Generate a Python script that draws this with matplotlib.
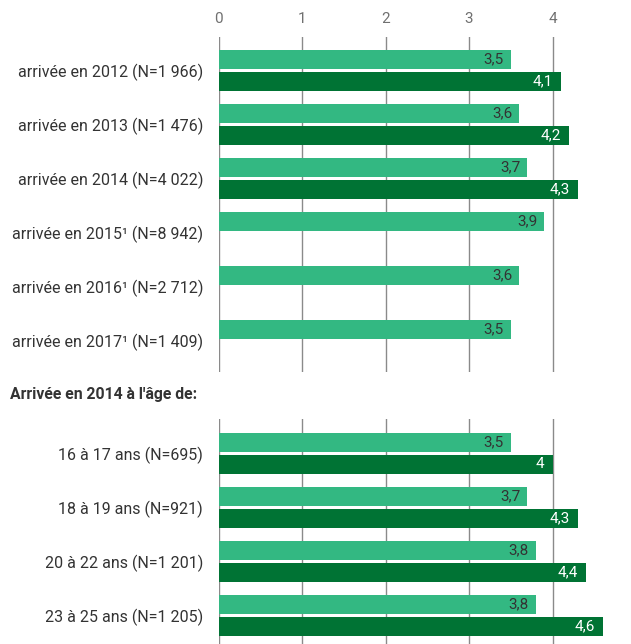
import matplotlib
matplotlib.use("Agg")
import matplotlib.pyplot as plt

plt.rcParams['font.family'] = ['Roboto', 'DejaVu Sans']

top_categories = ["arrivée en 2012 (N=1 966)", "arrivée en 2013 (N=1 476)",
                  "arrivée en 2014 (N=4 022)", "arrivée en 2015¹ (N=8 942)",
                  "arrivée en 2016¹ (N=2 712)", "arrivée en 2017¹ (N=1 409)"]
top_light = [3.5, 3.6, 3.7, 3.9, 3.6, 3.5]
top_dark = [4.1, 4.2, 4.3, None, None, None]

bottom_header = "Arrivée en 2014 à l'âge de:"
bottom_categories = ["16 à 17 ans (N=695)", "18 à 19 ans (N=921)",
                     "20 à 22 ans (N=1 201)", "23 à 25 ans (N=1 205)"]
bottom_light = [3.5, 3.7, 3.8, 3.8]
bottom_dark = [4.0, 4.3, 4.4, 4.6]

x_ticks = [0, 1, 2, 3, 4, 5]

LIGHT = "#33b882"
DARK = "#007334"
W, H = 631, 644
fig = plt.figure(figsize=(W / 100, H / 100), dpi=100)

x0 = 218.5
unit = 83.5
row = 54.0
bh = 19 / row
off = 11 / row
FS_LAB = 11.5
FS_VAL = 11
FS_TICK = 11


def fmt(v):
    s = f"{v:.1f}".replace(".", ",")
    if s.endswith(",0"):
        s = s[:-2]
    return s


def panel(top_px, bot_px, first_center_px, cats, light, dark, show_ticks):
    ax = fig.add_axes([x0 / W, 1 - bot_px / H, 5 * unit / W, (bot_px - top_px) / H])
    n = len(cats)
    ytop = -(first_center_px - top_px) / row
    ybot = ytop + (bot_px - top_px) / row
    ax.set_ylim(ybot, ytop)
    ax.set_xlim(0, 5)
    for s in ax.spines.values():
        s.set_visible(False)
    ax.set_xticks(x_ticks)
    ax.grid(axis='x', color='#8a8a8a', linewidth=1.0)
    ax.set_axisbelow(True)
    ax.tick_params(axis='x', length=0, top=False, bottom=False,
                   labeltop=show_ticks, labelbottom=False, pad=8,
                   labelsize=FS_TICK, labelcolor='#707070')
    ys = list(range(n))
    ax.set_yticks(ys)
    ax.set_yticklabels(cats)
    ax.tick_params(axis='y', length=0, pad=11, labelsize=FS_LAB, labelcolor='#333333')
    for i in ys:
        v = light[i]
        ax.barh(i - off, v, height=bh, color=LIGHT, zorder=2)
        ax.annotate(fmt(v), (v, i - off), xytext=(-7, 0), textcoords='offset pixels',
                    ha='right', va='center', fontsize=FS_VAL, color='#333333', zorder=3)
        d = dark[i]
        if d is not None:
            ax.barh(i + off, d, height=bh, color=DARK, zorder=2)
            ax.annotate(fmt(d), (d, i + off), xytext=(-8, 0), textcoords='offset pixels',
                        ha='right', va='center', fontsize=FS_VAL, color='white', zorder=3)
    return ax


panel(37, 372, 70.5, top_categories, top_light, top_dark, True)
panel(419, 644, 453, bottom_categories, bottom_light, bottom_dark, False)

fig.text(10 / W, 1 - 395 / H, bottom_header, fontsize=11.3, fontweight='bold',
         color='#333333', ha='left', va='center')

fig.savefig("out.png", dpi=100)
